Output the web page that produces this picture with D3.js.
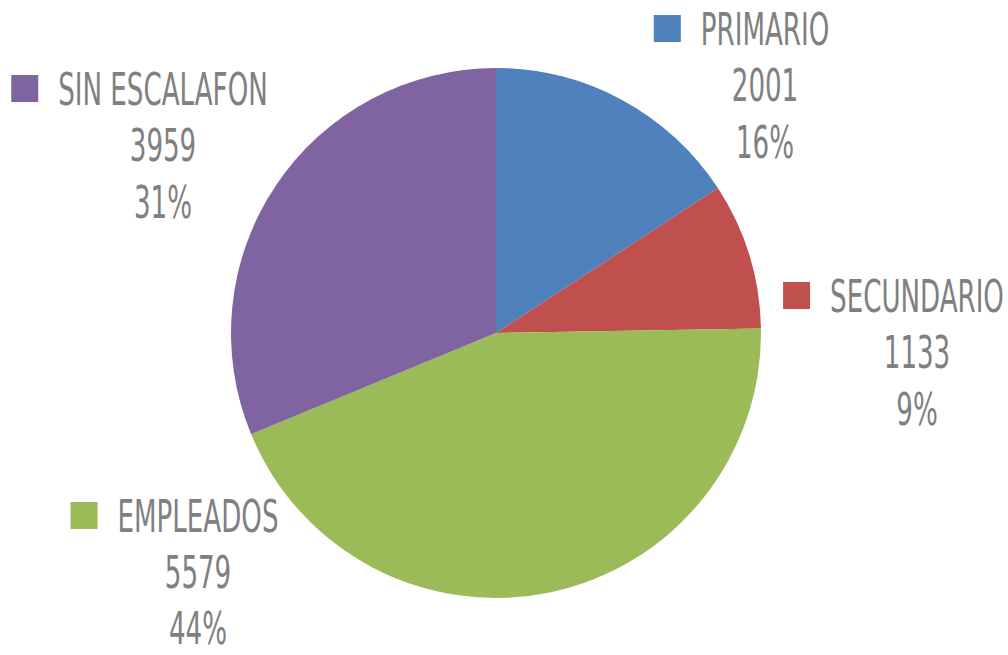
<!DOCTYPE html>
<html>
<head>
<meta charset="utf-8">
<script src="https://cdn.jsdelivr.net/npm/d3@7"></script>
<style>
  body { margin: 0; background: #fff; }
  text { font-family: "DejaVu Sans Condensed", "DejaVu Sans", sans-serif; font-stretch: condensed; fill: #808080; }
</style>
</head>
<body>
<svg id="chart" width="1008" height="655"></svg>
<script>
let categories = ['PRIMARIO', 'SECUNDARIO', 'EMPLEADOS', 'SIN ESCALAFON'];
let values = [2001, 1133, 5579, 3959];
let percents = ['16%', '9%', '44%', '31%'];
let colors = ['#4f81bd', '#c0504d', '#9bbb59', '#8064a2'];

// label anchors: centre of name text, baseline of first line
let labelPos = [[765, 45], [917, 312], [198, 532], [163, 105]];

let width = 1008, height = 655;
let cx = 496, cy = 333, radius = 265;
let squeeze = 0.66, lineGap = 56.5, fontSize = 44;

let svg = d3.select('#chart');

let pie = d3.pie().sort(null).value(d => d);
let arc = d3.arc().innerRadius(0).outerRadius(radius);

let slices = svg.append('g')
			.attr('transform', 'translate(' + cx + ',' + cy + ')')
		.selectAll('path')
			.data(pie(values))
		.enter().append('path')
			.attr('d', arc)
			.attr('fill', (d, i) => colors[i]);

let labels = svg.selectAll('g.label')
			.data(categories)
		.enter().append('g')
			.attr('class', 'label')
			.attr('transform', (d, i) => 'translate(' + labelPos[i][0] + ',' + labelPos[i][1] + ')');

labels.each(function(d, i) {
	let g = d3.select(this);
	let lines = [d, values[i], percents[i]];
	let inner = g.append('g').attr('transform', 'scale(' + squeeze + ',1)');
	let texts = inner.selectAll('text')
				.data(lines)
			.enter().append('text')
				.attr('x', 0)
				.attr('y', (t, j) => j * (i == 2 ? 56 : lineGap))
				.attr('text-anchor', 'middle')
				.attr('font-size', fontSize)
				.text(t => t);
	let nameWidth = texts.node().getComputedTextLength() * squeeze;
	g.append('rect')
		.attr('x', -nameWidth / 2 - 20 - 27)
		.attr('y', -30)
		.attr('width', 27)
		.attr('height', 27)
		.attr('fill', colors[i]);
});
</script>
</body>
</html>
